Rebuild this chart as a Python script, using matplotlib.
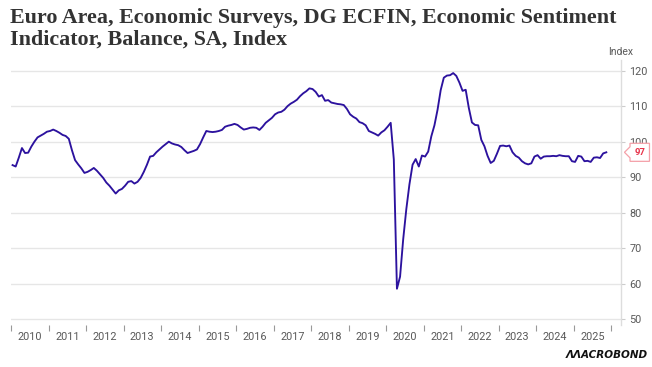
import matplotlib
matplotlib.use("Agg")
import matplotlib.pyplot as plt
import matplotlib.transforms as mtransforms
from matplotlib.patches import Polygon
import numpy as np

# ---------------- data ----------------
title_lines = ["Euro Area, Economic Surveys, DG ECFIN, Economic Sentiment",
               "Indicator, Balance, SA, Index"]
unit_label = "Index"
start_year = 2010
years = list(range(2010, 2026))
year_ticks = list(range(2010, 2027))
y_ticks = [50, 60, 70, 80, 90, 100, 110, 120]

esi_2010 = [93.4, 93.0, 95.5, 98.2, 96.8, 96.9, 98.6, 100.0, 101.2, 101.7, 102.2, 102.8]
esi_2011 = [103.0, 103.4, 103.0, 102.5, 101.9, 101.6, 100.8, 97.6, 94.8, 93.6, 92.5, 91.2]
esi_2012 = [91.5, 92.0, 92.6, 91.8, 90.8, 89.8, 88.5, 87.6, 86.5, 85.4, 86.3, 86.7]
esi_2013 = [87.6, 88.7, 88.9, 88.2, 88.7, 89.8, 91.5, 93.5, 95.8, 96.0, 97.0, 97.8]
esi_2014 = [98.6, 99.3, 100.0, 99.5, 99.2, 99.0, 98.5, 97.6, 96.8, 97.1, 97.4, 97.8]
esi_2015 = [99.3, 101.2, 103.0, 102.8, 102.7, 102.8, 103.0, 103.3, 104.2, 104.5, 104.7, 105.0]
esi_2016 = [104.7, 104.0, 103.4, 103.6, 103.9, 104.0, 103.9, 103.3, 104.2, 105.3, 106.0, 106.7]
esi_2017 = [107.7, 108.2, 108.4, 109.0, 110.0, 110.7, 111.2, 111.8, 112.8, 113.6, 114.2, 115.0]
esi_2018 = [114.8, 114.0, 112.7, 113.1, 111.5, 111.7, 111.0, 110.8, 110.6, 110.5, 110.3, 109.2]
esi_2019 = [107.7, 107.0, 106.5, 105.5, 105.2, 104.6, 103.0, 102.6, 102.2, 101.7, 102.6, 103.2]
esi_2020 = [104.2, 105.3, 95.0, 58.6, 62.0, 72.5, 81.0, 88.0, 93.5, 95.1, 93.0, 96.1]
esi_2021 = [95.8, 97.2, 101.5, 104.6, 109.0, 114.5, 118.0, 118.6, 118.7, 119.3, 118.5, 116.6]
esi_2022 = [114.3, 114.6, 109.5, 105.4, 104.7, 104.6, 100.5, 98.7, 96.0, 94.0, 94.6, 96.6]
esi_2023 = [98.8, 98.9, 98.7, 98.9, 97.0, 96.0, 95.5, 94.5, 93.9, 93.6, 93.9, 95.8]
esi_2024 = [96.2, 95.2, 95.8, 95.9, 95.9, 96.0, 95.9, 96.2, 96.0, 95.9, 95.9, 94.5]
esi_2025 = [94.3, 96.0, 95.8, 94.5, 94.6, 94.3, 95.5, 95.6, 95.4, 96.7, 97.0]

values = (esi_2010 + esi_2011 + esi_2012 + esi_2013 + esi_2014 + esi_2015 + esi_2016
          + esi_2017 + esi_2018 + esi_2019 + esi_2020 + esi_2021 + esi_2022 + esi_2023
          + esi_2024 + esi_2025)
x = start_year + (np.arange(len(values)) + 0.5) / 12.0
last_value = values[-1]

# ---------------- style ----------------
W, H = 652, 367
fig = plt.figure(figsize=(W / 100, H / 100), dpi=100)
fig.patch.set_facecolor("white")

ax_left, ax_right, ax_top, ax_bottom = 11, 621, 60, 325
ax = fig.add_axes([ax_left / W, 1 - ax_bottom / H,
                   (ax_right - ax_left) / W, (ax_bottom - ax_top) / H])

line_color = "#2c129e"
grid_color = "#e6e6e6"
text_color = "#595959"
tick_font = "Roboto"

ax.plot(x, values, color=line_color, lw=1.35, solid_joinstyle="round", zorder=3)

ax.set_xlim(2010, 2010 + (ax_right - ax_left) / 37.5)
ax.set_ylim(48.4, 122.98)

ax.set_yticks(y_ticks)
ax.yaxis.tick_right()
ax.yaxis.set_label_position("right")
ax.tick_params(axis="y", which="major", direction="out", length=3, width=0.8,
               color="#cccccc", labelsize=7.8, labelcolor=text_color, pad=3)
for lab in ax.get_yticklabels():
    lab.set_family(tick_font)
ax.grid(axis="y", color=grid_color, lw=1.0, zorder=0)

ax.set_xticks(year_ticks)
ax.set_xticklabels([])
ax.set_xticks([yv + 0.5 for yv in years], minor=True)
ax.set_xticklabels([str(yv) for yv in years], minor=True)
ax.tick_params(axis="x", which="major", direction="out", length=4, width=0.8, color="#999999")
ax.tick_params(axis="x", which="minor", length=0, labelsize=7.8, labelcolor=text_color, pad=5)
for lab in ax.get_xticklabels(minor=True):
    lab.set_family(tick_font)

for s in ["left", "top", "bottom"]:
    ax.spines[s].set_visible(False)
ax.spines["right"].set_color("#dddddd")
ax.spines["right"].set_linewidth(1.0)

# unit label above right axis
ax.text(1.0, 1.0 + 3 / (ax_bottom - ax_top), unit_label, transform=ax.transAxes,
        ha="center", va="bottom", fontsize=7.5, color=text_color, family=tick_font)

# last value callout
anchor = mtransforms.ScaledTranslation(1.0, last_value, ax.get_yaxis_transform())
pts = mtransforms.Affine2D().scale(fig.dpi / 72.0) + anchor
poly = [(2.5, 0), (6.5, 4), (6.5, 6.5), (20.5, 6.5), (20.5, -6.5), (6.5, -6.5), (6.5, -4)]
callout = Polygon(poly, closed=True, transform=pts, facecolor="white",
                  edgecolor="#f4a0a8", lw=0.9, clip_on=False, zorder=5)
ax.add_patch(callout)
ax.text(13.5, 0, f"{last_value:.0f}", transform=pts, ha="center", va="center",
        fontsize=6.8, color="#e8334a", fontweight="bold", family=tick_font, zorder=6)

# title (two lines drawn separately)
for line, base_px in zip(title_lines, [22.5, 45.0]):
    fig.text(10 / W, 1 - base_px / H, line, ha="left", va="baseline", fontsize=15.8,
             fontweight="bold", family="Liberation Serif", color="#333333")

# logo
fig.text(648 / W, 1 - 355 / H, "ΛΛACROBOND", ha="right", va="center", fontsize=7.5,
         fontweight="bold", family="DejaVu Sans", color="#111111", style="italic")

fig.savefig("out.png", dpi=100, facecolor="white")
